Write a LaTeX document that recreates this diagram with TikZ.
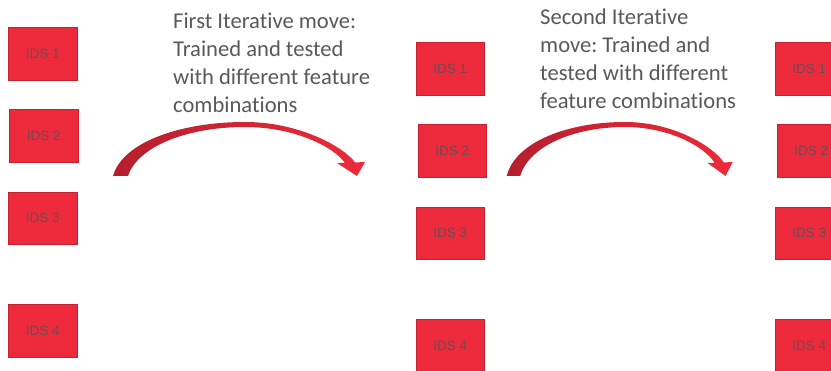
\documentclass[tikz,border=0pt]{standalone}
\usepackage{fontspec}
\setmainfont[Ligatures=NoCommon]{Carlito}
\newfontfamily\idsfont{Liberation Sans}
\frenchspacing

\definecolor{idsred}{HTML}{EC2A3C}
\definecolor{idsedge}{HTML}{C52231}
\definecolor{idstext}{HTML}{6C4C55}
\definecolor{movegray}{HTML}{595959}
\definecolor{arrowdark}{HTML}{B41F2D}
\definecolor{arrowlight}{HTML}{EE2A3B}

\begin{document}
\begin{tikzpicture}[x=1pt, y=-1pt,
	idsbox/.style={draw=idsedge, line width=0.6pt, fill=idsred, minimum width=68.4pt, minimum height=52.6pt, inner sep=0pt, anchor=north west, text=idstext, font=\idsfont\fontsize{13.5}{15}\selectfont},
	movelabel/.style={anchor=north west, align=left, inner sep=0pt, text=movegray, font=\fontsize{22.6}{27.8}\selectfont},
	movearrow/.style={left color=arrowdark, right color=arrowlight}]

\clip (0,0) rectangle (831,371);

% FIRST SET
\node [idsbox] (a1) at (8.3,27.3) {IDS 1};
\node [idsbox] (a2) at (9.3,109) {IDS 2};
\node [idsbox] (a3) at (8.3,191.7) {IDS 3};
\node [idsbox] (a4) at (8.3,304) {IDS 4};

% SECOND SET
\node [idsbox] (b1) at (415.7,42.3) {IDS 1};
\node [idsbox] (b2) at (417.7,124.3) {IDS 2};
\node [idsbox] (b3) at (415.7,206.7) {IDS 3};
\node [idsbox] (b4) at (415.7,319.3) {IDS 4};

% THIRD SET
\node [idsbox] (c1) at (774.7,42.3) {IDS 1};
\node [idsbox] (c2) at (776.7,124.3) {IDS 2};
\node [idsbox] (c3) at (774.7,206.7) {IDS 3};
\node [idsbox] (c4) at (774.7,319.3) {IDS 4};

% MOVES
\coordinate (move1) at (113,176);
\coordinate (move2) at (506.7,176);
\shade [movearrow, shift={(move1)}]
	(0,0) .. controls (10,-35) and (70,-54) .. (132,-54)
	.. controls (185,-54) and (230,-30) .. (242,-13.5)
	-- (252,-14) -- (244,0) -- (224,-13) -- (232,-13)
	.. controls (220,-30) and (180,-49) .. (132,-49)
	.. controls (75,-49) and (25,-30) .. (15,0) -- cycle;
\shade [movearrow, shift={(move2)}, xscale=0.897]
	(0,0) .. controls (10,-35) and (70,-54) .. (132,-54)
	.. controls (185,-54) and (230,-30) .. (242,-13.5)
	-- (252,-14) -- (244,0) -- (224,-13) -- (232,-13)
	.. controls (220,-30) and (180,-49) .. (132,-49)
	.. controls (75,-49) and (25,-30) .. (15,0) -- cycle;

% LABELS
\node [movelabel] (move1text) at (173,13) {First Iterative move:\\Trained and tested\\with different feature\\combinations};
\node [movelabel] (move2text) at (540,9) {Second Iterative\\move: Trained and\\tested with different\\feature combinations};

\end{tikzpicture}
\end{document}
